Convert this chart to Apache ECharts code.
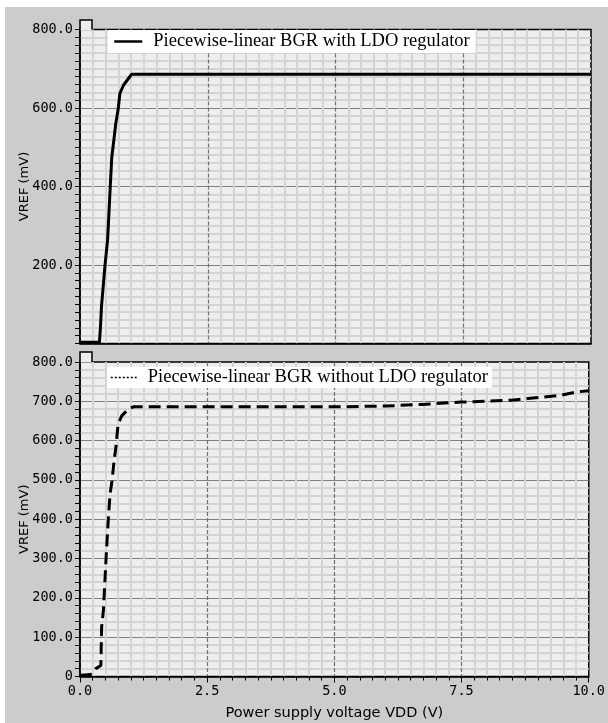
<!DOCTYPE html>
<html><head><meta charset="utf-8">
<script src="https://cdn.jsdelivr.net/npm/echarts@6/dist/echarts.min.js"></script>
<style>html,body{margin:0;padding:0;background:#fff;}#c{position:absolute;left:5px;top:7px;width:603px;height:716px;}</style>
</head><body><div id="c"></div><script>
// Top panel: with LDO regulator
const vddTop  = [0, 0.1, 0.2, 0.3, 0.38, 0.40, 0.42, 0.49, 0.54, 0.62, 0.70, 0.75, 0.78, 0.85, 1.01, 2, 3, 4, 5, 6, 7, 8, 9, 10];
const vrefTop = [3, 3, 3, 3, 3, 40, 94, 200, 264, 472, 560, 600, 637, 658, 686, 686, 686, 686, 686, 686, 686, 686, 686, 686];
// Bottom panel: without LDO regulator
const vddBot  = [0, 0.1, 0.2, 0.25, 0.31, 0.41, 0.425, 0.46, 0.49, 0.52, 0.555, 0.59, 0.63, 0.67, 0.706, 0.73, 0.75, 0.82, 0.95, 1.05, 2, 3, 4, 5, 6, 6.72, 7.49, 7.96, 8.48, 8.8, 9.13, 9.43, 9.78, 10];
const vrefBot = [3, 4, 5, 8, 20, 28, 125, 168, 244, 320, 397, 464, 498, 549, 583, 617, 642, 663, 680, 686, 686, 686, 686, 686, 688, 692, 698, 700, 703, 707, 711, 715, 724, 727];
const seriesNames = ['Piecewise-linear BGR with LDO regulator', 'Piecewise-linear BGR without LDO regulator'];
const xTitle = 'Power supply voltage VDD (V)';
const yTitle = 'VREF (mV)';

const zip = (a, b) => a.map((v, i) => [v, b[i]]);
const labelFont = {fontFamily: 'DejaVu Sans Mono', fontSize: 13.5, color: '#000'};
const minorLine = {show: true, lineStyle: {color: '#d4d4d4', width: 2}};

function yAxis(grid, interval, minorN, fmt) {
  return {
    type: 'value', gridIndex: grid, min: 0, max: 800, interval: interval,
    name: yTitle, nameLocation: 'middle', nameGap: 49, nameMoveOverlap: false,
    nameTextStyle: {fontFamily: 'DejaVu Sans', fontSize: 13, color: '#000'},
    axisLine: {show: true, lineStyle: {color: '#000', width: 1.5}},
    axisTick: {show: true, length: 5, lineStyle: {color: '#000'}},
    minorTick: {show: true, splitNumber: minorN, length: 5, lineStyle: {color: '#000'}},
    axisLabel: Object.assign({margin: 7, formatter: fmt}, labelFont),
    splitLine: {show: true, showMinLine: false, showMaxLine: false, lineStyle: {color: '#808080', width: 1.2}},
    minorSplitLine: minorLine
  };
}
function xAxis(grid, withLabels) {
  return {
    type: 'value', gridIndex: grid, min: 0, max: 10, interval: 2.5,
    name: withLabels ? xTitle : '', nameLocation: 'middle', nameGap: 29, nameMoveOverlap: false,
    nameTextStyle: {fontFamily: 'DejaVu Sans', fontSize: 14.5, color: '#000'},
    axisLine: {show: true, onZero: false, lineStyle: {color: '#000', width: 1.5}},
    axisTick: {show: withLabels, length: 6, lineStyle: {color: '#000'}},
    minorTick: {show: withLabels, splitNumber: 10, length: 4, lineStyle: {color: '#000'}},
    axisLabel: Object.assign({show: withLabels, margin: 8, formatter: v => v.toFixed(1)}, labelFont),
    splitLine: {show: true, showMinLine: false, showMaxLine: false, lineStyle: {color: '#707070', width: 1.2, type: [4, 2]}},
    minorSplitLine: minorLine
  };
}

const chart = echarts.init(document.getElementById('c'));
chart.setOption({
  animation: false,
  backgroundColor: '#cccccc',
  grid: [
    {left: 75, right: 17, top: 22.5, height: 314, show: true, backgroundColor: '#eeeeee', borderColor: '#000', borderWidth: 1.5},
    {left: 75, right: 17, top: 355, height: 314.5, show: true, backgroundColor: '#eeeeee', borderColor: '#000', borderWidth: 1.5}
  ],
  xAxis: [xAxis(0, false), xAxis(1, true)],
  yAxis: [
    yAxis(0, 200, 10, v => v === 0 ? '' : v.toFixed(1)),
    yAxis(1, 100, 5, v => v === 0 ? '0' : v.toFixed(1))
  ],
  legend: [
    {left: 103, top: 23, padding: [2, 6, 2, 5], backgroundColor: '#fff', itemWidth: 28, itemHeight: 12,
     data: [{name: seriesNames[0], itemStyle: {opacity: 0}, lineStyle: {width: 2.5, type: 'solid', color: '#000'}}],
     textStyle: {fontFamily: 'Liberation Serif', fontSize: 18.5, color: '#000', padding: [0, 0, 0, 6]}},
    {left: 102, top: 360, padding: [1, 4, 1, 3], backgroundColor: '#fff', itemWidth: 26, itemHeight: 12,
     data: [{name: seriesNames[1], itemStyle: {opacity: 0}, lineStyle: {width: 1.5, type: [2, 2], color: '#000'}}],
     textStyle: {fontFamily: 'Liberation Serif', fontSize: 18.5, color: '#000', padding: [0, 0, 0, 6]}}
  ],
  series: [
    {name: seriesNames[0], type: 'line', xAxisIndex: 0, yAxisIndex: 0, symbol: 'none', z: 5,
     data: zip(vddTop, vrefTop), lineStyle: {color: '#000', width: 3}},
    {name: seriesNames[1], type: 'line', xAxisIndex: 1, yAxisIndex: 1, symbol: 'none', z: 5,
     data: zip(vddBot, vrefBot), lineStyle: {color: '#000', width: 3, type: [12, 6]}}
  ],
  graphic: [
    {type: 'rect', shape: {x: 75.5, y: 13, width: 11.5, height: 10.5}, style: {fill: '#eeeeee'}, z: 10},
    {type: 'polyline', shape: {points: [[75, 22.5], [75, 13], [87, 13], [87, 22.5]]}, style: {stroke: '#000', lineWidth: 1.5, fill: null}, z: 11},
    {type: 'rect', shape: {x: 75.5, y: 345, width: 11.5, height: 10.5}, style: {fill: '#eeeeee'}, z: 10},
    {type: 'polyline', shape: {points: [[75, 355], [75, 345], [87, 345], [87, 355]]}, style: {stroke: '#000', lineWidth: 1.5, fill: null}, z: 11}
  ]
});
</script></body></html>
